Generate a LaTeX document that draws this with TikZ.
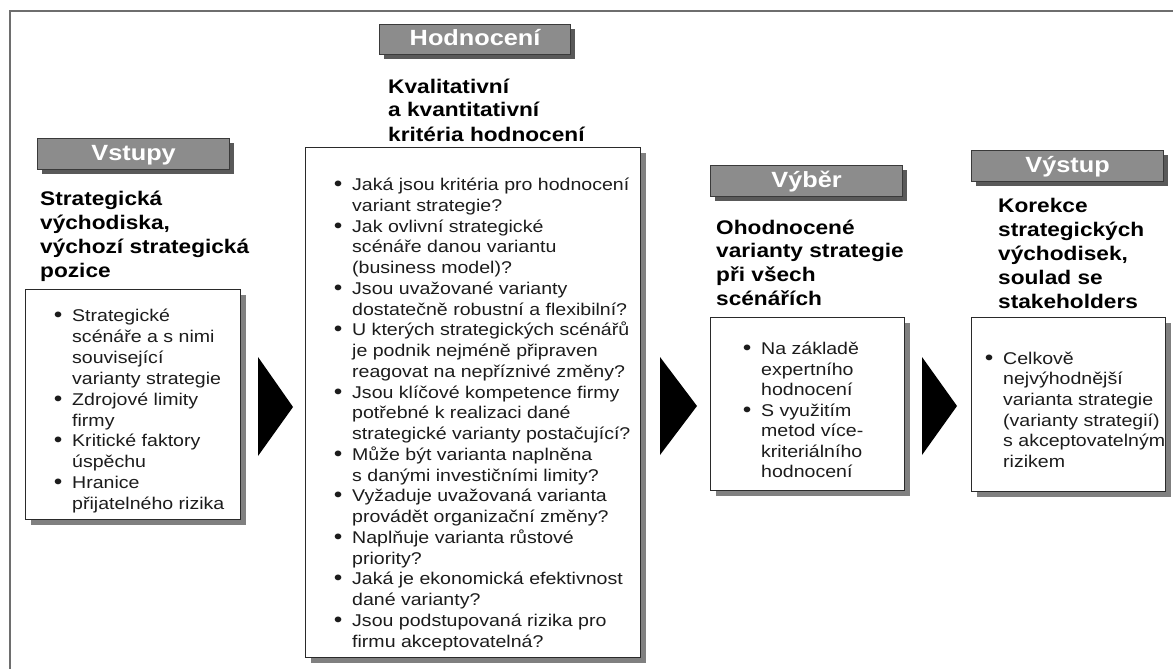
\documentclass[tikz,border=0pt]{standalone}
\usepackage{fontspec}
\setmainfont{Liberation Sans}[FakeStretch=1.15]
\usetikzlibrary{shadows}
\definecolor{framec}{HTML}{6E6E6E}
\definecolor{hdrfill}{HTML}{8C8C8C}
\definecolor{hdrdraw}{HTML}{3A3A3A}
\definecolor{boxdraw}{HTML}{2A2A2A}
\definecolor{bodytext}{HTML}{1C1C1C}
\newcommand\bodyfmt[1]{\fontsize{17}{#1}\selectfont\color{bodytext}\raggedright}
\newcommand\titlefmt[1]{\fontsize{19.7}{#1}\selectfont\bfseries\raggedright}
\newcommand\bul{\leavevmode\llap{{\fontsize{20}{20}\selectfont\bfseries\textbullet}\hspace{10pt}}}
\tikzset{
  txt/.style={inner sep=0pt, anchor=base west},
  hdr/.style={draw=hdrdraw, fill=hdrfill, line width=1.2pt, inner sep=0pt,
    minimum width=192pt, minimum height=31pt, anchor=north west,
    text=white, font=\fontsize{22}{26}\selectfont\bfseries,
    text height=16pt, text depth=4pt,
    drop shadow={shadow xshift=4pt, shadow yshift=-4pt, fill=black!65, opacity=1}},
  cbox/.style={draw=boxdraw, fill=white, line width=1.4pt, inner sep=0pt, anchor=north west,
    drop shadow={shadow xshift=5pt, shadow yshift=-5pt, fill=black!50, opacity=1}},
  tri/.style={fill=black}
}
\begin{document}
\begin{tikzpicture}[x=1pt,y=-1pt]
\useasboundingbox (0,0) rectangle (1173,669);
% outer frame
\draw[framec, line width=2.5pt] (10,669) -- (10,11) -- (1173,11);

% ---------- Vstupy ----------
\node[hdr] (hvst) at (37,138) {Vstupy};
\node[txt] (tvst) at (40,205) {\parbox[t]{220pt}{\titlefmt{24}Strategická\\ východiska,\\ výchozí strategická\\ pozice}};
\node[cbox, minimum width=215pt, minimum height=230pt] (bvst) at (25,289) {};
\node[txt] (lvst) at (72,309) {\parbox[t]{200pt}{\bodyfmt{20.9}\bul Strategické\\ scénáře a s nimi\\ související\\ varianty strategie\\
\bul Zdrojové limity\\ firmy\\
\bul Kritické faktory\\ úspěchu\\
\bul Hranice\\ přijatelného rizika}};

% ---------- Hodnocení ----------
\node[hdr, minimum width=191pt, minimum height=30pt] (hhod) at (379,24) {Hodnocení};
\node[txt] (thod) at (388,93) {\parbox[t]{260pt}{\titlefmt{24}Kvalitativní\\ a kvantitativní\\ kritéria hodnocení}};
\node[cbox, minimum width=335pt, minimum height=510pt] (bhod) at (305,147) {};
\node[txt] (lhod) at (352,178) {\parbox[t]{330pt}{\bodyfmt{20.75}\bul Jaká jsou kritéria pro hodnocení\\ variant strategie?\\
\bul Jak ovlivní strategické\\ scénáře danou variantu\\ (business model)?\\
\bul Jsou uvažované varianty\\ dostatečně robustní a flexibilní?\\
\bul U kterých strategických scénářů\\ je podnik nejméně připraven\\ reagovat na nepříznivé změny?\\
\bul Jsou klíčové kompetence firmy\\ potřebné k realizaci dané\\ strategické varianty postačující?\\
\bul Může být varianta naplněna\\ s danými investičními limity?\\
\bul Vyžaduje uvažovaná varianta\\ provádět organizační změny?\\
\bul Naplňuje varianta růstové\\ priority?\\
\bul Jaká je ekonomická efektivnost\\ dané varianty?\\
\bul Jsou podstupovaná rizika pro\\ firmu akceptovatelná?}};

% ---------- Výběr ----------
\node[hdr] (hvyb) at (710,165) {Výběr};
\node[txt] (tvyb) at (716,234) {\parbox[t]{220pt}{\titlefmt{23.7}Ohodnocené\\ varianty strategie\\ při všech\\ scénářích}};
\node[cbox, minimum width=194pt, minimum height=173pt] (bvyb) at (710,317) {};
\node[txt] (lvyb) at (761,342) {\parbox[t]{200pt}{\bodyfmt{20.5}\bul Na základě\\ expertního\\ hodnocení\\
\bul S využitím\\ metod více-\\ kriteriálního\\ hodnocení}};

% ---------- Výstup ----------
\node[hdr] (hvys) at (971,150) {Výstup};
\node[txt] (tvys) at (998,212) {\parbox[t]{200pt}{\titlefmt{24}Korekce\\ strategických\\ východisek,\\ soulad se\\ stakeholders}};
\node[cbox, minimum width=194pt, minimum height=174pt] (bvys) at (971,317) {};
\node[txt] (lvys) at (1003,352) {\parbox[t]{200pt}{\bodyfmt{20.6}\bul Celkově\\ nejvýhodnější\\ varianta strategie\\ (varianty strategií)\\ s akceptovatelným\\ rizikem}};

% ---------- arrows ----------
\fill[tri] (258,357) -- (293,407) -- (258,456) -- cycle;
\fill[tri] (660,357) -- (697,406) -- (660,455) -- cycle;
\fill[tri] (922,357) -- (957,406) -- (922,455) -- cycle;
\end{tikzpicture}
\end{document}
